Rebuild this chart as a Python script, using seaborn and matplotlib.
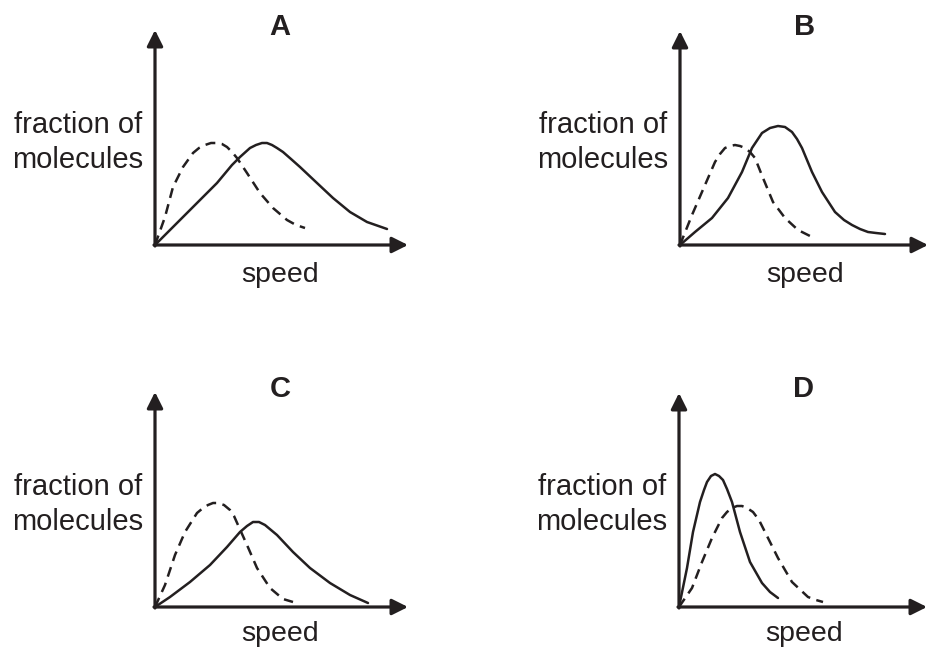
import numpy as np
import pandas as pd
import matplotlib
matplotlib.use("Agg")
import matplotlib.pyplot as plt
import seaborn as sns

sns.set_theme(style="white")
plt.rcParams["font.family"] = ["Liberation Sans", "DejaVu Sans"]

W, H = 929, 648
INK = "#231f20"

panel_letters = ["A", "B", "C", "D"]
y_label_lines = ["fraction of", "molecules"]
x_label = "speed"

# Curve samples per panel: speed (x) and fraction (y), in drawing units
a_solid_x = [0, 22, 42, 62, 77, 85, 95, 101, 107, 112, 117, 122, 128, 136,
             145, 162, 178, 195, 212, 232]
a_solid_y = [0, 22, 42, 62, 80, 88, 97, 100, 102, 102, 100, 97, 93, 86,
             78, 62, 47, 33, 23, 16]
a_dash_x = [0, 5, 10, 18, 28, 38, 44, 50, 56, 62, 67, 72, 77, 82, 92, 105,
            118, 132, 141, 150]
a_dash_y = [0, 14, 28, 58, 78, 92, 97, 100, 102, 102, 101, 98, 93, 87, 72,
            52, 37, 25, 20, 17]

b_solid_x = [0, 15, 32, 48, 62, 72, 82, 90, 98, 105, 112, 117, 122, 132,
             142, 155, 164, 172, 180, 188, 196, 205]
b_solid_y = [0, 13, 27, 47, 73, 97, 112, 117, 119, 118, 113, 106, 97, 73,
             53, 33, 25, 20, 16, 13, 12, 11]
b_dash_x = [0, 12, 25, 35, 40, 45, 50, 55, 60, 65, 70, 75, 83, 93, 105,
            118, 132]
b_dash_y = [0, 30, 60, 83, 91, 97, 99, 100, 99, 97, 93, 87, 67, 43, 27,
            15, 8]

c_solid_x = [0, 15, 35, 55, 72, 85, 92, 98, 104, 110, 116, 122, 138, 155,
             175, 195, 213]
c_solid_y = [0, 10, 25, 42, 60, 75, 81, 85, 85, 82, 77, 72, 55, 39, 24,
             12, 4]
c_dash_x = [0, 10, 20, 30, 42, 48, 53, 58, 63, 69, 75, 79, 83, 92, 102,
            115, 128, 138]
c_dash_y = [0, 22, 52, 75, 94, 99, 102, 104, 104, 102, 97, 91, 82, 62, 39,
            19, 8, 5]

d_solid_x = [0, 8, 14, 21, 25, 28, 32, 36, 40, 44, 48, 53, 61, 71, 83, 91,
             99]
d_solid_y = [0, 39, 75, 105, 117, 125, 131, 133, 131, 127, 118, 105, 75,
             45, 24, 15, 9]
d_dash_x = [0, 13, 23, 33, 43, 48, 53, 58, 63, 68, 74, 80, 86, 99, 113,
            129, 137, 144]
d_dash_y = [0, 19, 45, 69, 89, 95, 99, 101, 101, 99, 95, 87, 75, 49, 25,
            10, 7, 5]

solid_x = [a_solid_x, b_solid_x, c_solid_x, d_solid_x]
solid_y = [a_solid_y, b_solid_y, c_solid_y, d_solid_y]
dash_x = [a_dash_x, b_dash_x, c_dash_x, d_dash_x]
dash_y = [a_dash_y, b_dash_y, c_dash_y, d_dash_y]

# Panel geometry in pixels: origin (x, y from top), axis lengths
origins = [(155, 245), (680, 245), (155, 607), (679, 607)]
x_len = [253, 248, 253, 248]
y_len = [215, 214, 215, 214]
speed_baseline = [282, 282, 641, 641]

fig = plt.figure(figsize=(W / 100, H / 100), dpi=100)
fig.patch.set_facecolor("white")


def ftext(x, y, s, **kw):
    fig.text(x / W, 1 - y / H, s, color=INK, **kw)


for i, letter in enumerate(panel_letters):
    ox, oy = origins[i]
    w, h = x_len[i], y_len[i]
    ax = fig.add_axes([ox / W, (H - oy) / H, w / W, h / H])
    ax.set_xlim(0, w)
    ax.set_ylim(0, h)
    ax.set_axis_off()

    df_s = pd.DataFrame({"speed": solid_x[i], "fraction": solid_y[i]})
    df_d = pd.DataFrame({"speed": dash_x[i], "fraction": dash_y[i]})
    sns.lineplot(data=df_s, x="speed", y="fraction", ax=ax, color=INK,
                 linewidth=1.8, estimator=None, clip_on=False)
    sns.lineplot(data=df_d, x="speed", y="fraction", ax=ax, color=INK,
                 linewidth=1.8, estimator=None, clip_on=False,
                 dashes=False, linestyle=(0, (4.0, 2.6)))

    arrow = dict(arrowstyle="-|>", lw=2.3, color=INK, mutation_scale=24,
                 shrinkA=0, shrinkB=0)
    ax.annotate("", xy=(w, 0), xytext=(-1, 0), arrowprops=arrow,
                annotation_clip=False)
    ax.annotate("", xy=(0, h), xytext=(0, -1), arrowprops=arrow,
                annotation_clip=False)

    dx = ox - 155
    dy = oy - 245
    ftext(280 + dx, 35 + dy, letter, fontsize=21, fontweight="bold",
          ha="center", va="baseline")
    ftext(78 + dx, 133 + dy, y_label_lines[0], fontsize=21,
          ha="center", va="baseline")
    ftext(78 + dx, 168 + dy, y_label_lines[1], fontsize=21,
          ha="center", va="baseline")
    ftext(280 + dx, speed_baseline[i], x_label, fontsize=20.5,
          ha="center", va="baseline")

fig.savefig("out.png", dpi=100, facecolor="white")
